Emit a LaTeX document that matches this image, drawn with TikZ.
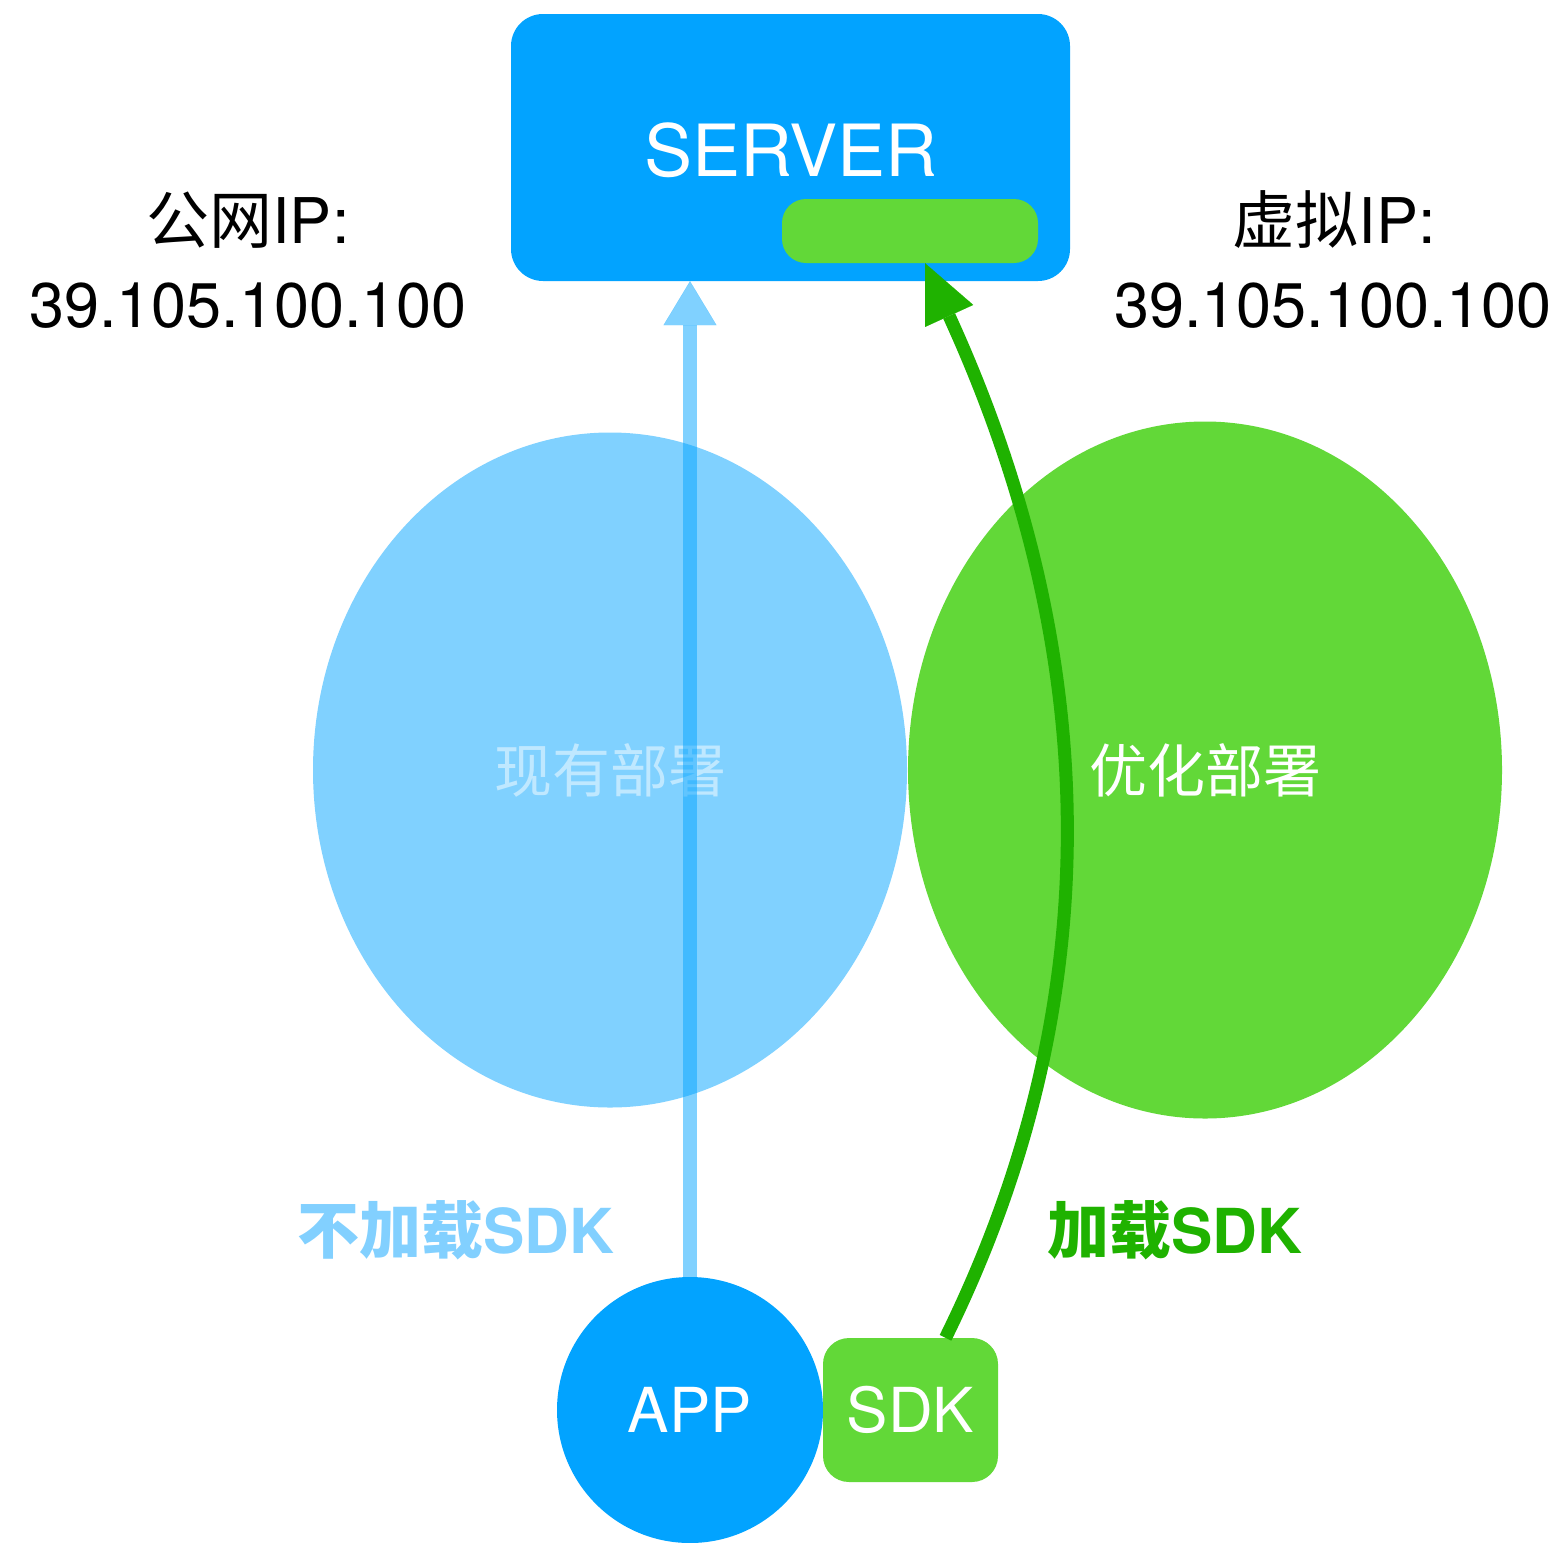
\documentclass[tikz,border=0pt]{standalone}
\usepackage{fontspec}
\setmainfont{TeX Gyre Heros}
\newfontfamily\cjk{Noto Sans CJK SC}
\usetikzlibrary{arrows.meta,calc,shapes.geometric}

\definecolor{srvblue}{RGB}{2,163,255}
\definecolor{lightblue}{RGB}{130,208,255}
\definecolor{okgreen}{RGB}{98,216,56}
\definecolor{arrowgreen}{RGB}{31,178,0}

\tikzset{
  panel/.style={fill=#1, draw=none, inner sep=0pt},
  blob/.style={ellipse, fill=#1, draw=none, inner sep=0pt},
  iplabel/.style={anchor=base, inner sep=0pt, text=black, font=\fontsize{63}{70}\selectfont},
  deploylabel/.style={inner sep=0pt, font=\cjk\fontsize{58}{60}\selectfont},
  pathlabel/.style={anchor=base, inner sep=0pt, font=\bfseries\fontsize{62}{66}\selectfont},
  unitlabel/.style={text=white, font=\fontsize{62}{66}\selectfont},
}

\begin{document}
\begin{tikzpicture}[x=1pt, y=-1pt]
\useasboundingbox (0,0) rectangle (1562,1542);

% server with its virtual address slot
\node[panel=srvblue, rounded corners=32pt, minimum width=559pt, minimum height=267pt] (server) at (790.5,147.5) {};
\node[inner sep=0pt, text=white, font=\fontsize{72}{76}\selectfont] (srvname) at (791,150) {SERVER};
\node[panel=okgreen, rounded corners=24pt, minimum width=256pt, minimum height=64pt] (vip) at (910,231) {};

% address captions
\node[iplabel] (pubtitle) at (248,243) {{\cjk 公网}IP:};
\node[iplabel] (pubaddr) at (248,327) {39.105.100.100};
\node[iplabel] (virttitle) at (1334,243) {{\cjk 虚拟}IP:};
\node[iplabel] (virtaddr) at (1333,327) {39.105.100.100};

% deployment areas
\node[blob=srvblue, fill opacity=0.5, text opacity=0.5, text=white, deploylabel,
      minimum width=594pt, minimum height=675pt] (current) at (610,770) {现有部署};
\node[blob=okgreen, text=white, deploylabel,
      minimum width=594pt, minimum height=697pt] (optimized) at (1205,770) {优化部署};

% client side
\node[circle, panel=srvblue, minimum size=266pt, unitlabel] (app) at (690,1410) {APP};
\node[panel=okgreen, rounded corners=26pt, minimum width=175pt, minimum height=144pt, unitlabel] (sdk) at (910.5,1410) {SDK};

% connections
\draw[line width=14pt, draw=srvblue, opacity=0.5,
      -{Triangle[length=44pt, width=53pt, line width=0.1pt, fill=srvblue]}]
  (app.north) -- (app.north |- server.south);
\draw[line width=13pt, draw=arrowgreen,
      -{Triangle[length=58pt, width=53pt, line width=0.1pt, fill=arrowgreen]}]
  ($(sdk.north)+(35,0)$) .. controls (1124,976) and (1090,624) .. ($(vip.south)+(15,0)$);

% route captions
\node[pathlabel, text=lightblue] (nosdk) at (456,1253) {{\cjk 不加载}SDK};
\node[pathlabel, text=arrowgreen] (withsdk) at (1175,1253) {{\cjk 加载}SDK};
\end{tikzpicture}
\end{document}
